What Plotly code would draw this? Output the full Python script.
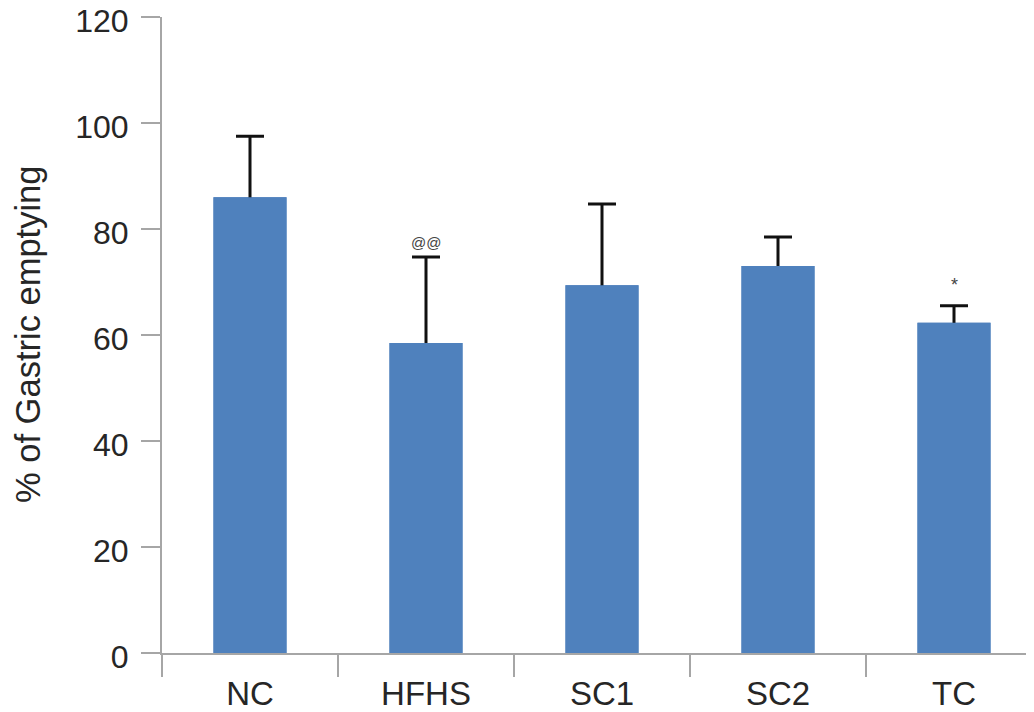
import plotly.graph_objects as go

categories = ["NC", "HFHS", "SC1", "SC2", "TC"]
means = [86.0, 58.5, 69.4, 73.0, 62.3]
errors = [11.5, 16.2, 15.3, 5.5, 3.2]
marks = ["", "@@", "", "", "*"]

bar_color = "#4F81BD"
axis_color = "#A6A6A6"
text_color = "#262626"
font_family = "Liberation Sans, Arial, sans-serif"

fig = go.Figure()
# bars with error bars (lower half hidden by the overlay copy below)
fig.add_trace(go.Bar(
    x=categories, y=means, width=0.415, marker=dict(color=bar_color, line=dict(width=0)),
    error_y=dict(type="data", array=errors, symmetric=True, color="#111111", thickness=3, width=14),
    showlegend=False, hoverinfo="skip",
))
fig.add_trace(go.Bar(
    x=categories, y=means, width=0.415, marker=dict(color=bar_color, line=dict(width=0)),
    showlegend=False,
))

for c, m, e, t in zip(categories, means, errors, marks):
    if t:
        fig.add_annotation(x=c, y=m + e, text=t, showarrow=False, yanchor="bottom",
                           yshift=4 if t == "@@" else 9,
                           font=dict(size=15 if t == "@@" else 18, color="#444444", family=font_family))

fig.add_annotation(xref="paper", yref="paper", x=0, y=0.5, xshift=-134, text="% of Gastric emptying",
                   textangle=-90, showarrow=False, xanchor="center", yanchor="middle",
                   font=dict(size=34.5, color=text_color, family=font_family))

fig.update_layout(
    width=1034, height=712, barmode="overlay",
    margin=dict(l=154, r=0, t=9, b=67),
    paper_bgcolor="white", plot_bgcolor="white",
    font=dict(family=font_family, size=30, color=text_color),
)
fig.update_xaxes(
    range=[-0.5, 4.5], showline=True, linecolor=axis_color, linewidth=2, automargin=False,
    ticks="outside", tickson="boundaries", ticklen=22, tickwidth=2, tickcolor=axis_color,
    showgrid=False, zeroline=False, tickfont=dict(size=33, color=text_color), ticklabelstandoff=10,
    ticklabeloverflow="allow",
)
fig.update_yaxes(
    range=[0, 120], tickvals=[0, 20, 40, 60, 80, 100, 120], showline=True, linecolor=axis_color,
    linewidth=2, ticks="outside", ticklen=19, tickwidth=2, tickcolor=axis_color, automargin=False,
    showgrid=False, zeroline=False, tickfont=dict(size=32, color=text_color), ticklabelstandoff=6,
    ticklabelshift=4, ticklabeloverflow="allow",
)

fig.write_html("out.html")
